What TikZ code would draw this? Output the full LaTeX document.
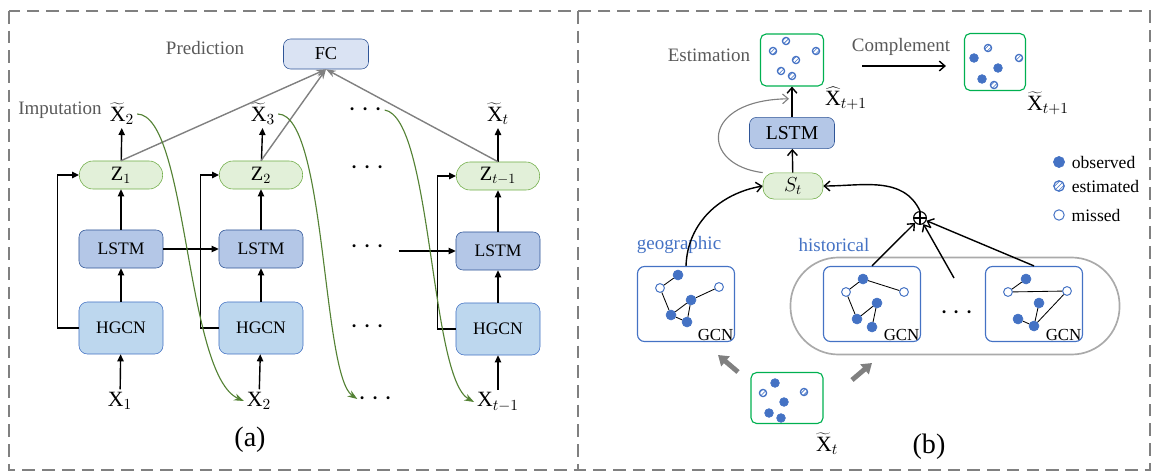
\documentclass[tikz,border=0pt]{standalone}
\usepackage{fontspec}
\setmainfont{Liberation Serif}
\usepackage{tikz}
\usetikzlibrary{arrows.meta, positioning, calc, patterns}
\definecolor{framegrey}{RGB}{128,128,128}
\definecolor{textgrey}{RGB}{89,89,89}
\definecolor{pillgrey}{RGB}{170,170,170}
\definecolor{lstmblue}{RGB}{180,199,231}
\definecolor{gcnblue}{RGB}{189,215,238}
\definecolor{fcblue}{RGB}{218,227,243}
\definecolor{edgeblue}{RGB}{47,85,151}
\definecolor{nodeblue}{RGB}{68,114,196}
\definecolor{zgreen}{RGB}{226,240,217}
\definecolor{zedge}{RGB}{112,173,71}
\definecolor{curvegreen}{RGB}{84,130,53}
\definecolor{boxgreen}{RGB}{0,176,80}

\begin{document}
\begin{tikzpicture}[
  x=0.025cm, y=-0.025cm,
  font=\fontsize{13}{15}\selectfont,
  fcbox/.style={rectangle, rounded corners=5pt, draw=edgeblue, fill=fcblue,
              minimum width=2.125cm, minimum height=0.75cm},
  lstmbox/.style={rectangle, rounded corners=5pt, draw=edgeblue, fill=lstmblue,
              minimum width=2.1cm, minimum height=0.95cm,
              font=\fontsize{12.5}{14}\selectfont},
  gcnbox/.style={rectangle, rounded corners=6pt, draw=nodeblue, fill=gcnblue,
              minimum width=2.1cm, minimum height=1.3cm,
              font=\fontsize{12.5}{14}\selectfont},
  zpill/.style={rectangle, rounded corners=0.34cm, draw=zedge, fill=zgreen,
              minimum width=2.08cm, minimum height=0.7cm,
              font=\fontsize{14.5}{16}\selectfont},
  gbox/.style={rectangle, rounded corners=4pt, draw=boxgreen, line width=0.8pt},
  gcnframe/.style={rectangle, rounded corners=5pt, draw=nodeblue, line width=0.8pt,
              minimum width=2.425cm, minimum height=1.875cm},
  gcnlbl/.style={anchor=south east, inner sep=1pt, font=\fontsize{12}{14}\selectfont},
  obs/.style={circle, fill=nodeblue, draw=nodeblue, inner sep=0pt, minimum size=0.25cm},
  mis/.style={circle, fill=white, draw=nodeblue, line width=0.7pt, inner sep=0pt,
              minimum size=0.22cm},
  est/.style={circle, draw=nodeblue, line width=0.9pt, pattern=north east lines,
              pattern color=nodeblue, inner sep=0pt, minimum size=0.18cm},
  dot/.style={obs, minimum size=0.22cm},
  oplus/.style={circle, draw, line width=0.8pt, inner sep=0pt, minimum size=0.32cm,
              path picture={\draw (path picture bounding box.north) -- (path picture bounding box.south)
                (path picture bounding box.west) -- (path picture bounding box.east);}},
  frame/.style={framegrey, line width=1.4pt, dash pattern=on 9pt off 5pt},
  arr/.style={-{Triangle[length=5pt, width=4.5pt]}, line width=1pt},
  oarr/.style={-{Straight Barb[length=4pt, width=7pt]}, line width=1pt},
  parr/.style={-{Stealth[length=7pt, width=5pt]}, line width=1pt, framegrey},
  grarr/.style={-{Straight Barb[length=4pt, width=7pt]}, line width=0.8pt, framegrey},
  garr/.style={-{Stealth[length=7pt, width=5pt]}, line width=0.8pt, curvegreen},
  thk/.style={-{Triangle[length=7pt, width=9pt]}, line width=3.5pt, framegrey},
  edge/.style={line width=0.6pt},
  var/.style={font=\fontsize{15.5}{17}\selectfont, inner sep=2pt},
  dots/.style={font=\fontsize{22}{24}\selectfont, inner sep=1pt},
  lbl/.style={color=textgrey, font=\fontsize{13.5}{15}\selectfont},
  blbl/.style={color=nodeblue, font=\fontsize{13.5}{15}\selectfont},
  sub/.style={font=\fontsize{20}{22}\selectfont}
]
\useasboundingbox (0,0) rectangle (1156,473);

% ── Dashed frame with divider ──
\draw[frame] (9,11) rectangle (1150,470);
\draw[frame] (578,11) -- (578,470);

% ── (a): FC on top ──
\node[fcbox] (fc) at (326,54) {FC};
\node[lbl] (pred) at (205,48) {Prediction};
\node[lbl] (imp) at (60,110) {Imputation};

% ── (a): columns ──
\node[zpill] (z1) at (121,175) {$\mathrm{Z}_1$};
\node[zpill] (z2) at (261,175) {$\mathrm{Z}_2$};
\node[zpill] (z3) at (498,176) {$\mathrm{Z}_{t-1}$};
\node[lstmbox] (lstm1) at (121,249) {LSTM};
\node[lstmbox] (lstm2) at (261,249) {LSTM};
\node[lstmbox] (lstm3) at (498,251) {LSTM};
\node[gcnbox] (hgcn1) at (121,328) {HGCN};
\node[gcnbox] (hgcn2) at (261,328) {HGCN};
\node[gcnbox] (hgcn3) at (498,329) {HGCN};

\node[var] (x1)  at (120,401) {$\mathrm{X}_1$};
\node[var] (x2)  at (259,401) {$\mathrm{X}_2$};
\node[dots] (xd) at (376,399) {$\cdots$};
\node[var] (xt1) at (498,402) {$\mathrm{X}_{t-1}$};

\node[var] (tx2) at (122,114) {$\widetilde{\mathrm{X}}_2$};
\node[var] (tx3) at (263,114) {$\widetilde{\mathrm{X}}_3$};
\node[dots] (txd) at (366,110) {$\cdots$};
\node[var] (txt) at (498,114) {$\widetilde{\mathrm{X}}_t$};
\node[dots] (zd) at (368,168) {$\cdots$};
\node[dots] (ld) at (368,247) {$\cdots$};
\node[dots] (hd) at (368,327) {$\cdots$};

% ── (a): arrows up each column ──
\draw[arr] (x1) -- (hgcn1);
\draw[arr] (x2) -- (hgcn2);
\draw[arr] (xt1) -- (hgcn3);
\draw[arr] (hgcn1) -- (lstm1);
\draw[arr] (hgcn2) -- (lstm2);
\draw[arr] (hgcn3) -- (lstm3);
\draw[arr] (lstm1) -- (z1);
\draw[arr] (lstm2) -- (z2);
\draw[arr] (lstm3) -- (z3);
\draw[arr] (z1) -- (tx2);
\draw[arr] (z2) -- (tx3);
\draw[arr] (z3) -- (txt);

% ── (a): skip lines HGCN -> Z ──
\draw[arr] (hgcn1.west) -- ++(-21,0) |- (z1.west);
\draw[arr] (hgcn2.west) -- ++(-18,0) |- (z2.west);
\draw[arr] (hgcn3.west) -- ++(-18,0) |- (z3.west);

% ── (a): LSTM chain ──
\draw[arr] (lstm1) -- (lstm2);
\draw[arr, shorten <=0.3cm] (ld.east |- lstm3) -- (lstm3);

% ── (a): prediction lines ──
\draw[parr] (z1.north) -- (fc.south);
\draw[parr] (z2.north) -- (fc.south);
\draw[parr] (z3.north) -- (fc.south);

% ── (a): imputed values fed forward ──
\draw[garr] (tx2.east) .. controls (188,115) and (185,375) .. (x2.west);
\draw[garr] (tx3.east) .. controls (326,115) and (322,375) .. (xd.west);
\draw[garr] (txd.east) .. controls (432,118) and (430,378) .. (xt1.west);

\node[sub] (la) at (250,440) {(a)};

% ── (b): estimation and complement ──
\node[lbl] (estl) at (709,55) {Estimation};
\node[gbox, minimum width=1.575cm, minimum height=1.3cm] (estb) at (792,60) {};
\node[est] (e1) at (786,41) {};
\node[est] (e2) at (773,51) {};
\node[est] (e3) at (816,51) {};
\node[est] (e4) at (796,60) {};
\node[est] (e5) at (781,71) {};
\node[est] (e6) at (792,76) {};

\node[lbl] (compl) at (901,47) {Complement};
\node[gbox, minimum width=1.525cm, minimum height=1.425cm] (compb) at (995,62) {};
\node[est] (c1) at (988,48) {};
\node[dot] (c2) at (974,58) {};
\node[est] (c3) at (1019,58) {};
\node[dot] (c4) at (998,68) {};
\node[dot] (c5) at (982,79) {};
\node[est] (c6) at (994,85) {};
\draw[oarr] ([shift={(38,6)}]estb.east) -- ([shift={(-18,4)}]compb.west);

\node[var] (hatx) at (846,98) {$\widehat{\mathrm{X}}_{t+1}$};
\node[var] (tilx) at (1048,103) {$\widetilde{\mathrm{X}}_{t+1}$};

% ── (b): LSTM over S_t ──
\node[lstmbox, minimum width=2.125cm, minimum height=0.78cm,
      font=\fontsize{14}{16}\selectfont] (lstm) at (792,133) {LSTM};
\node[zpill, minimum width=1.5cm, minimum height=0.58cm,
      rounded corners=0.28cm] (st) at (793,186) {$S_t$};
\draw[oarr] (st) -- (lstm);
\draw[oarr] (lstm) -- (estb);
\draw[grarr] (st.north west) .. controls (700,165) and (700,100)
  .. ($(lstm.north)!0.6!(estb.south)+(-3,0)$);

% ── (b): legend ──
\node[obs, minimum size=0.28cm] (lgo) at (1059,162) {};
\node[est, minimum size=0.26cm] (lge) at (1059,186) {};
\node[mis, minimum size=0.26cm] (lgm) at (1059,215) {};
\node[right=0.05cm of lgo, font=\fontsize{12.5}{14}\selectfont] (lgot) {observed};
\node[right=0.05cm of lge, font=\fontsize{12.5}{14}\selectfont] (lget) {estimated};
\node[right=0.05cm of lgm, font=\fontsize{12.5}{14}\selectfont] (lgmt) {missed};

% ── (b): geographic and historical GCNs ──
\node[blbl] (geol) at (679,245) {geographic};
\node[blbl] (histl) at (834,245) {historical};
\node[rectangle, rounded corners=1.2cm, draw=pillgrey, line width=1.2pt,
      minimum width=8.225cm, minimum height=2.425cm] (hist) at (955,306) {};
\node[gcnframe] (geo) at (686,304) {};
\node[gcnframe] (h1) at (872,304) {};
\node[gcnframe] (h2) at (1034,304) {};
\node[gcnlbl] (gcn0) at (geo.south east) {GCN};
\node[gcnlbl] (gcn1) at (h1.south east) {GCN};
\node[gcnlbl] (gcn2) at (h2.south east) {GCN};
\node[dots] (hdots) at (957,313) {$\cdots$};

% geographic graph
\node[obs] (ga) at (678,275) {};
\node[mis] (gb) at (660,288) {};
\node[mis] (gc) at (719,287) {};
\node[obs] (gd) at (691,300) {};
\node[obs] (ge) at (671,315) {};
\node[obs] (gf) at (687,322) {};
\draw[edge] (ga) -- (gb) (gb) -- (ge) (ge) -- (gd) (gd) -- (gc) (ge) -- (gf) (gf) -- (gd);

% historical graph 1
\node[obs] (pa) at (863,279) {};
\node[mis] (pb) at (846,292) {};
\node[mis] (pc) at (904,292) {};
\node[obs] (pd) at (877,303) {};
\node[obs] (pe) at (857,319) {};
\node[obs] (pf) at (872,327) {};
\draw[edge] (pa) -- (pb) (pa) -- (pc) (pb) -- (pe) (pe) -- (pd) (pd) -- (pf);

% historical graph 2
\node[obs] (qa) at (1026,279) {};
\node[mis] (qb) at (1008,292) {};
\node[mis] (qc) at (1067,291) {};
\node[obs] (qd) at (1039,303) {};
\node[obs] (qe) at (1018,319) {};
\node[obs] (qf) at (1034,326) {};
\draw[edge] (qa) -- (qb) (qb) -- (qc) (qc) -- (qf) (qf) -- (qd) (qe) -- (qf);

% ── (b): fusion into S_t ──
\node[oplus] (plus) at (920,218) {};
\coordinate (hdc) at (954,278);
\draw[oarr] (h1.north) -- (plus);
\draw[oarr] (hdc) -- (plus);
\draw[oarr] (h2.north) -- (plus);
\draw[oarr] (plus.north) to[out=115, in=0] (st.east);
\draw[oarr] (geo.north) to[out=88, in=190] (st.west);

% ── (b): input X_t ──
\node[gbox, minimum width=1.8cm, minimum height=1.275cm] (xtb) at (787,398) {};
\node[dot] (t1) at (775,383) {};
\node[est] (t2) at (763,393) {};
\node[est] (t3) at (804,392) {};
\node[dot] (t4) at (784,402) {};
\node[dot] (t5) at (769,413) {};
\node[dot] (t6) at (781,418) {};
\node[var] (xtl) at (827,444) {$\widetilde{\mathrm{X}}_t$};
\coordinate (ga1) at (738,372);
\coordinate (gb1) at (718,355);
\coordinate (ga2) at (852,380);
\coordinate (gb2) at (872,363);
\draw[thk] (ga1) -- (gb1);
\draw[thk] (ga2) -- (gb2);

\node[sub] (lb) at (929,447) {(b)};

\end{tikzpicture}
\end{document}
